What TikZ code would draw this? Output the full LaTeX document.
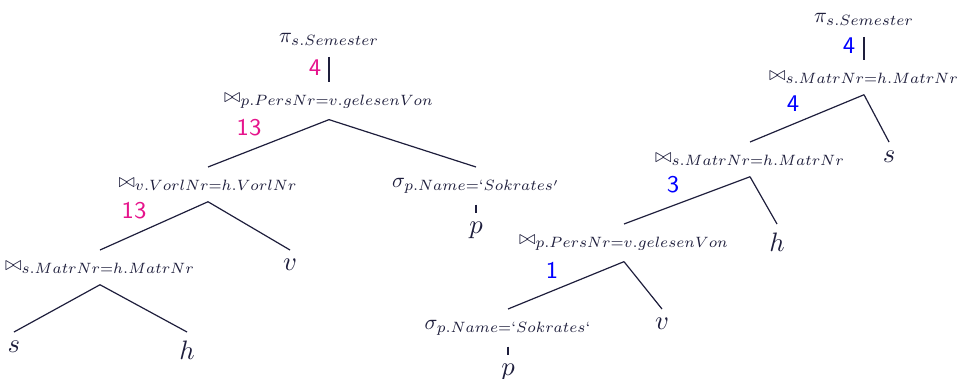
\documentclass[tikz,border=0pt]{standalone}
\usepackage{graphicx}
\usepackage{xcolor}
\definecolor{ink}{RGB}{30,30,60}
\definecolor{mag}{RGB}{230,20,140}
\definecolor{blu}{RGB}{0,0,255}
\newcommand{\jn}{\mathrel{\scalebox{0.92}{$\bowtie$}}}
\newcommand{\opx}[1]{\scalebox{0.8}{$#1$}}
\begin{document}
\begin{tikzpicture}[x=0.375pt,y=-0.375pt,
  op/.style={text=ink, inner sep=4pt, anchor=north},
  leaf/.style={text=ink, inner sep=3.3pt, anchor=north},
  conn/.style={draw=ink, line width=0.45pt},
  nummag/.style={text=mag, font=\fontsize{9}{10}\sffamily, inner sep=0pt},
  numblu/.style={text=blu, font=\fontsize{9}{10}\sffamily, inner sep=0pt}]
\useasboundingbox (0,0) rectangle (957,378);
% ---------- left tree ----------
\node[op] (Lpi) at (329,22) {\opx{\pi_{s.Semester}}};
\node[op] (Lj1) at (329,82) {\opx{\jn_{p.PersNr=v.gelesenVon}}};
\node[op] (Lj2) at (208,167) {\opx{\jn_{v.VorlNr=h.VorlNr}}};
\node[op] (Lsig) at (476,167) {\opx{\sigma_{p.Name=`Sokrates'}}};
\node[leaf] (Lp) at (476,213) {$p$};
\node[op] (Lj3) at (100,250) {\opx{\jn_{s.MatrNr=h.MatrNr}}};
\node[leaf] (Lv) at (290,250) {$v$};
\node[leaf] (Ls) at (14,332) {$s$};
\node[leaf] (Lh) at (187,332) {$h$};
\draw[conn] (Lpi.south) -- (Lj1.north);
\draw[conn] (Lj1.south) -- (Lj2.north);
\draw[conn] (Lj1.south) -- (Lsig.north);
\draw[conn] (Lsig.south) -- (Lp.north);
\draw[conn] (Lj2.south) -- (Lj3.north);
\draw[conn] (Lj2.south) -- (Lv.north);
\draw[conn] (Lj3.south) -- (Ls.north);
\draw[conn] (Lj3.south) -- (Lh.north);
\node[nummag] (Lc1) at (315,68) {4};
\node[nummag] (Lc2) at (249,128) {13};
\node[nummag] (Lc3) at (134,211) {13};
% ---------- right tree ----------
\node[op] (Rpi) at (864,2) {\opx{\pi_{s.Semester}}};
\node[op] (Rj1) at (864,60) {\opx{\jn_{s.MatrNr=h.MatrNr}}};
\node[op] (Rj2) at (750,142) {\opx{\jn_{s.MatrNr=h.MatrNr}}};
\node[leaf] (Rs) at (889,142) {$s$};
\node[op] (Rj3) at (624,224) {\opx{\jn_{p.PersNr=v.gelesenVon}}};
\node[leaf] (Rh) at (777,224) {$h$};
\node[op] (Rsig) at (508,309) {\opx{\sigma_{p.Name=`Sokrates`}}};
\node[leaf] (Rv) at (662,309) {$v$};
\node[leaf] (Rp) at (508,355) {$p$};
\draw[conn] (Rpi.south) -- (Rj1.north);
\draw[conn] (Rj1.south) -- (Rj2.north);
\draw[conn] (Rj1.south) -- (Rs.north);
\draw[conn] (Rj2.south) -- (Rj3.north);
\draw[conn] (Rj2.south) -- (Rh.north);
\draw[conn] (Rj3.south) -- (Rsig.north);
\draw[conn] (Rj3.south) -- (Rv.north);
\draw[conn] (Rsig.south) -- (Rp.north);
\node[numblu] (Rc1) at (849,46) {4};
\node[numblu] (Rc2) at (793,104) {4};
\node[numblu] (Rc3) at (673,185) {3};
\node[numblu] (Rc4) at (552,270) {1};
\end{tikzpicture}
\end{document}
